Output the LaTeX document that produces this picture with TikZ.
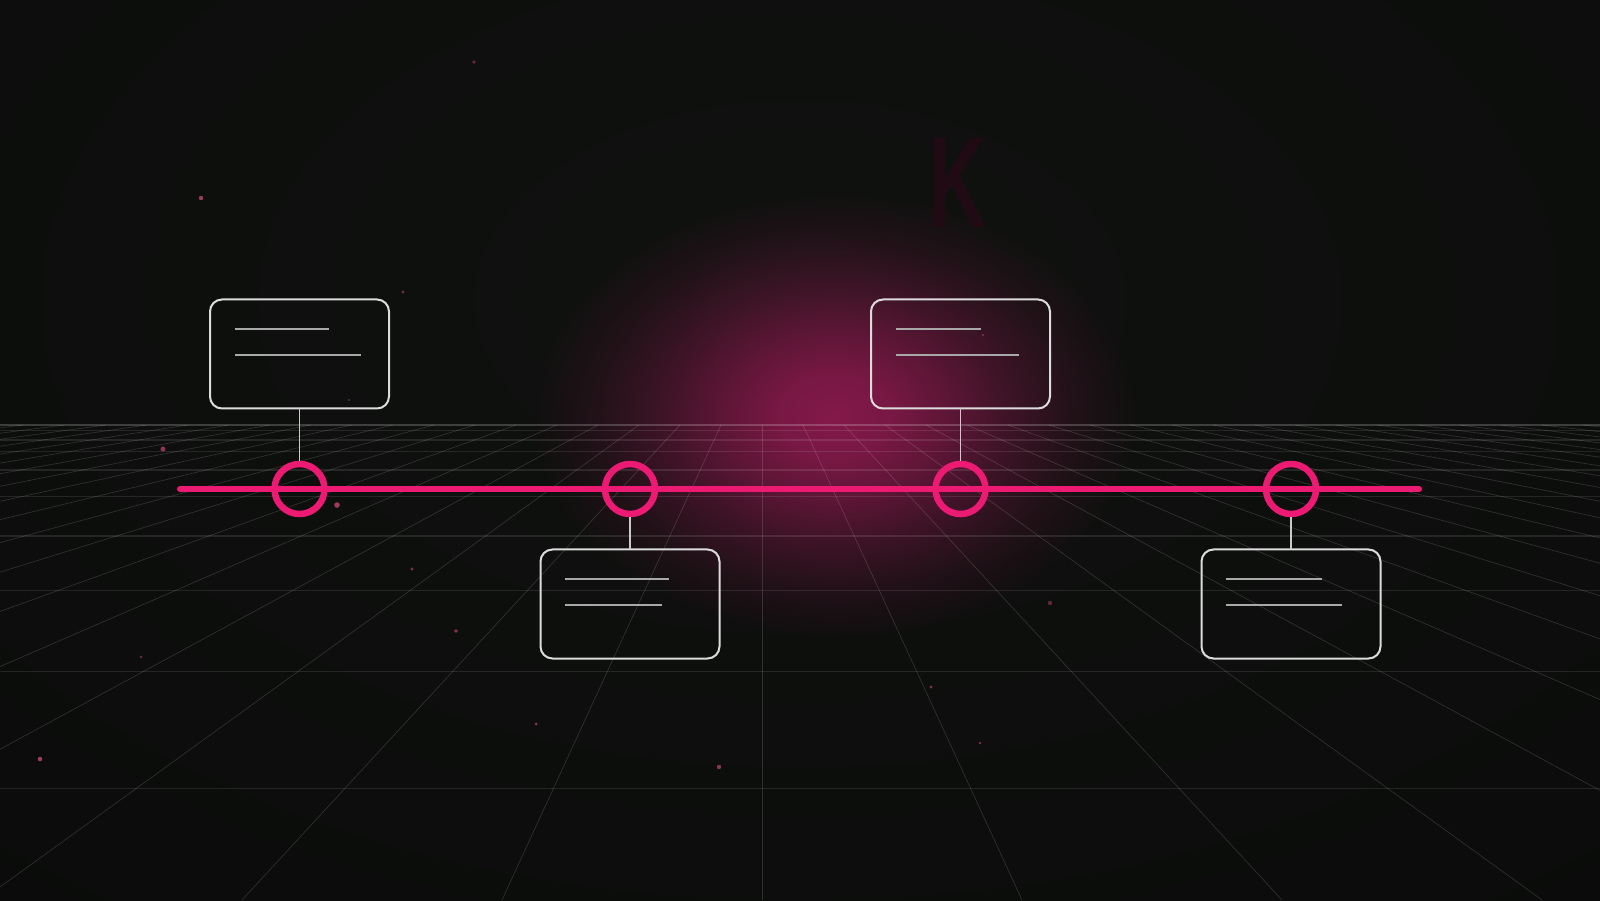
\documentclass[tikz,border=0pt]{standalone}
\usepackage{fontspec}
\setmainfont{Liberation Sans}
\usetikzlibrary{positioning, fadings}

\definecolor{bgc}{HTML}{0A0B0A}
\definecolor{bglight}{HTML}{101210}
\definecolor{glowc}{HTML}{84194A}
\definecolor{hotpink}{HTML}{EC1A72}
\definecolor{cardline}{HTML}{DCDCDC}
\definecolor{textline}{HTML}{A8A8A8}
\definecolor{stemline}{HTML}{CACACA}
\definecolor{speck}{HTML}{C4466C}
\definecolor{kdim}{HTML}{200A13}

% soft mask for the glow (white = opaque, black = clear); 25bp = path edge
\pgfdeclareradialshading{glowmask}{\pgfpoint{0bp}{0bp}}{%
  color(0bp)=(white); color(4bp)=(white!90!black); color(8bp)=(white!68!black);
  color(12.5bp)=(white!40!black); color(17bp)=(white!17!black); color(22bp)=(black); color(50bp)=(black)}
\pgfdeclarefading{glowfade}{\pgfuseshading{glowmask}}

\tikzset{
  milestone/.style={circle, draw=hotpink, line width=6.5pt, minimum size=50pt,
    inner sep=0pt, outer sep=0pt},
  card/.style={draw=cardline, line width=2pt, rounded corners=12pt,
    minimum width=179pt, minimum height=109pt, inner sep=0pt, outer sep=0pt},
  cardtext/.style={draw=textline, line width=1.8pt},
  stem/.style={draw=stemline, line width=1.8pt},
  timeline/.style={draw=hotpink, line width=6pt, line cap=round},
  gridray/.style={draw=white, opacity=.14, line width=.7pt},
  gridrow/.style={draw=white, opacity=.1, line width=1.5pt}
}

\begin{document}
\begin{tikzpicture}[x=1pt, y=1pt]
    \useasboundingbox (0,0) rectangle (1600,900);
    \fill[bgc] (0,0) rectangle (1600,900);
    \shade[inner color=bglight, outer color=bgc] (800,600) ellipse [x radius=1300pt, y radius=800pt];

    % glow behind the floor
    \fill[glowc, path fading=glowfade] (835,484) ellipse [x radius=345pt, y radius=255pt];

    % perspective floor
    \begin{scope}
      \clip (0,0) rectangle (1600,900);
      \foreach \k in {-19,...,21}
        \draw[gridray] ({762+41.03*\k},475) -- ({762+260*\k},0);
      \foreach \y in {469.3,460,448.3,430,403.3,364,309.3,228.3,111.7}
        \draw[gridrow] (0,\y) -- (1600,\y);
      \draw[gridrow, opacity=.2] (0,475) -- (1600,475);
    \end{scope}

    \node[font=\bfseries\fontsize{130}{130}\selectfont, text=kdim, xscale=.62,
      transform shape, inner sep=0pt] (logo) at (958,717) {K};

    % specks
    \foreach \px/\py/\pr/\po in {474/838/1.8/.45, 201/702/2.2/.8, 403/608/1.6/.55,
        163/451/2.5/.7, 337/395/2.8/.8, 412/331/1.6/.6, 456/269/1.8/.7,
        141/243/1.5/.5, 40/141/2.3/.8, 536/176/1.5/.7, 719/133/2.2/.7,
        1050/297/2.2/.45, 931/213/1.6/.6, 980/157/1.3/.6, 983/565/1.2/.6}
      \fill[speck, opacity=\po] (\px,\py) circle [radius=\pr pt];
    \fill[white, opacity=.25] (349,500) circle [radius=1pt];

    \coordinate (tl-l) at (180,411);
    \coordinate (tl-r) at (1419,411);
    \draw[timeline] (tl-l) -- (tl-r);

    \node[milestone] (m1) at (299.5,411) {};
    \node[milestone, right=280.5pt of m1] (m2) {};
    \node[milestone, right=280.5pt of m2] (m3) {};
    \node[milestone, right=280.5pt of m3] (m4) {};

    \node[card, above=55.5pt of m1] (c1) {};
    \node[card, below=35.5pt of m2] (c2) {};
    \node[card, above=55.5pt of m3] (c3) {};
    \node[card, below=35.5pt of m4] (c4) {};

    \draw[stem, shorten >=3.2pt] (c1) -- (m1);
    \draw[stem, shorten <=3.2pt] (m2) -- (c2);
    \draw[stem, shorten >=3.2pt] (c3) -- (m3);
    \draw[stem, shorten <=3.2pt] (m4) -- (c4);

    \draw[cardtext] ([xshift=24.5pt, yshift=-29.7pt]c1.north west) -- ++(94pt,0);
    \draw[cardtext] ([xshift=24.5pt, yshift=-55.6pt]c1.north west) -- ++(126pt,0);
    \draw[cardtext] ([xshift=24.5pt, yshift=-29.7pt]c2.north west) -- ++(104pt,0);
    \draw[cardtext] ([xshift=24.5pt, yshift=-55.6pt]c2.north west) -- ++(97pt,0);
    \draw[cardtext] ([xshift=24.5pt, yshift=-29.7pt]c3.north west) -- ++(85pt,0);
    \draw[cardtext] ([xshift=24.5pt, yshift=-55.6pt]c3.north west) -- ++(123pt,0);
    \draw[cardtext] ([xshift=24.5pt, yshift=-29.7pt]c4.north west) -- ++(96pt,0);
    \draw[cardtext] ([xshift=24.5pt, yshift=-55.6pt]c4.north west) -- ++(116pt,0);
\end{tikzpicture}
\end{document}
